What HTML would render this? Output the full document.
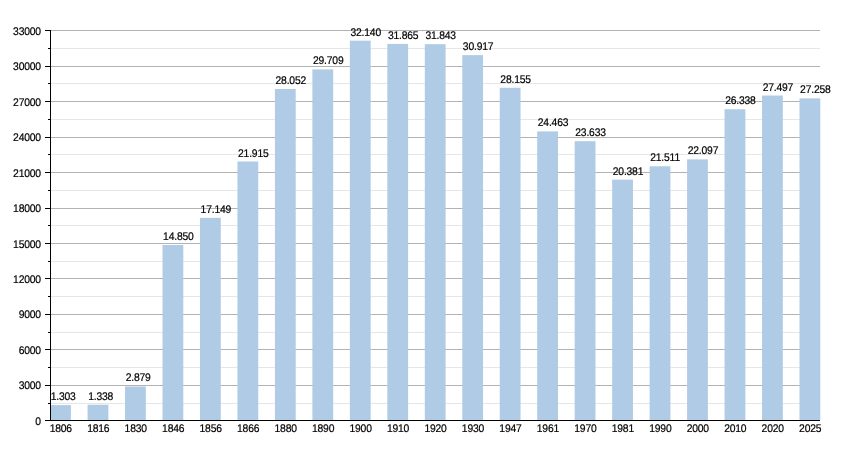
<!DOCTYPE html>
<html><head><meta charset="utf-8"><title>Chart</title>
<style>
html,body{margin:0;padding:0;background:#fff;}
body{width:850px;height:450px;overflow:hidden;}
svg{display:block;}
svg text{font-family:"Liberation Sans",Arial,Helvetica,sans-serif;font-size:11px;fill:#000;letter-spacing:-0.2px;text-rendering:geometricPrecision;stroke:#000;stroke-width:0.2px;}
</style></head><body>
<svg width="850" height="450" viewBox="0 0 850 450">
<rect width="850" height="450" fill="#fff"/>
<line x1="50.5" y1="403.50" x2="820" y2="403.50" stroke="#e6e6e6" stroke-width="1"/>
<line x1="50.5" y1="367.50" x2="820" y2="367.50" stroke="#e6e6e6" stroke-width="1"/>
<line x1="50.5" y1="332.50" x2="820" y2="332.50" stroke="#e6e6e6" stroke-width="1"/>
<line x1="50.5" y1="296.50" x2="820" y2="296.50" stroke="#e6e6e6" stroke-width="1"/>
<line x1="50.5" y1="261.50" x2="820" y2="261.50" stroke="#e6e6e6" stroke-width="1"/>
<line x1="50.5" y1="225.50" x2="820" y2="225.50" stroke="#e6e6e6" stroke-width="1"/>
<line x1="50.5" y1="190.50" x2="820" y2="190.50" stroke="#e6e6e6" stroke-width="1"/>
<line x1="50.5" y1="154.50" x2="820" y2="154.50" stroke="#e6e6e6" stroke-width="1"/>
<line x1="50.5" y1="119.50" x2="820" y2="119.50" stroke="#e6e6e6" stroke-width="1"/>
<line x1="50.5" y1="83.50" x2="820" y2="83.50" stroke="#e6e6e6" stroke-width="1"/>
<line x1="50.5" y1="48.50" x2="820" y2="48.50" stroke="#e6e6e6" stroke-width="1"/>
<line x1="50.5" y1="385.50" x2="820" y2="385.50" stroke="#b3b3b3" stroke-width="1"/>
<line x1="50.5" y1="349.50" x2="820" y2="349.50" stroke="#b3b3b3" stroke-width="1"/>
<line x1="50.5" y1="314.50" x2="820" y2="314.50" stroke="#b3b3b3" stroke-width="1"/>
<line x1="50.5" y1="278.50" x2="820" y2="278.50" stroke="#b3b3b3" stroke-width="1"/>
<line x1="50.5" y1="243.50" x2="820" y2="243.50" stroke="#b3b3b3" stroke-width="1"/>
<line x1="50.5" y1="208.50" x2="820" y2="208.50" stroke="#b3b3b3" stroke-width="1"/>
<line x1="50.5" y1="172.50" x2="820" y2="172.50" stroke="#b3b3b3" stroke-width="1"/>
<line x1="50.5" y1="137.50" x2="820" y2="137.50" stroke="#b3b3b3" stroke-width="1"/>
<line x1="50.5" y1="101.50" x2="820" y2="101.50" stroke="#b3b3b3" stroke-width="1"/>
<line x1="50.5" y1="66.50" x2="820" y2="66.50" stroke="#b3b3b3" stroke-width="1"/>
<line x1="50.5" y1="30.50" x2="820" y2="30.50" stroke="#b3b3b3" stroke-width="1"/>
<rect x="50.10" y="405.10" width="20.8" height="15.40" fill="#b0cbe6"/>
<rect x="87.57" y="404.69" width="20.8" height="15.81" fill="#b0cbe6"/>
<rect x="125.04" y="386.48" width="20.8" height="34.02" fill="#b0cbe6"/>
<rect x="162.51" y="245.00" width="20.8" height="175.50" fill="#b0cbe6"/>
<rect x="199.98" y="217.83" width="20.8" height="202.67" fill="#b0cbe6"/>
<rect x="237.45" y="161.50" width="20.8" height="259.00" fill="#b0cbe6"/>
<rect x="274.92" y="88.98" width="20.8" height="331.52" fill="#b0cbe6"/>
<rect x="312.39" y="69.39" width="20.8" height="351.11" fill="#b0cbe6"/>
<rect x="349.86" y="40.66" width="20.8" height="379.84" fill="#b0cbe6"/>
<rect x="387.33" y="43.91" width="20.8" height="376.59" fill="#b0cbe6"/>
<rect x="424.80" y="44.17" width="20.8" height="376.33" fill="#b0cbe6"/>
<rect x="462.27" y="55.12" width="20.8" height="365.38" fill="#b0cbe6"/>
<rect x="499.74" y="87.76" width="20.8" height="332.74" fill="#b0cbe6"/>
<rect x="537.21" y="131.39" width="20.8" height="289.11" fill="#b0cbe6"/>
<rect x="574.68" y="141.20" width="20.8" height="279.30" fill="#b0cbe6"/>
<rect x="612.15" y="179.63" width="20.8" height="240.87" fill="#b0cbe6"/>
<rect x="649.62" y="166.28" width="20.8" height="254.22" fill="#b0cbe6"/>
<rect x="687.09" y="159.35" width="20.8" height="261.15" fill="#b0cbe6"/>
<rect x="724.56" y="109.23" width="20.8" height="311.27" fill="#b0cbe6"/>
<rect x="762.03" y="95.54" width="20.8" height="324.96" fill="#b0cbe6"/>
<rect x="799.50" y="98.36" width="20.8" height="322.14" fill="#b0cbe6"/>
<line x1="50.5" y1="30" x2="50.5" y2="421" stroke="#000" stroke-width="1"/>
<line x1="50" y1="420.5" x2="820" y2="420.5" stroke="#000" stroke-width="1"/>
<line x1="45" y1="420.50" x2="50.5" y2="420.50" stroke="#000" stroke-width="1"/>
<text transform="translate(40.9 424.80) scale(0.94 1)" text-anchor="end">0</text>
<line x1="48" y1="403.50" x2="50.5" y2="403.50" stroke="#000" stroke-width="1"/>
<line x1="45" y1="385.50" x2="50.5" y2="385.50" stroke="#000" stroke-width="1"/>
<text transform="translate(40.9 389.35) scale(0.94 1)" text-anchor="end">3000</text>
<line x1="48" y1="367.50" x2="50.5" y2="367.50" stroke="#000" stroke-width="1"/>
<line x1="45" y1="349.50" x2="50.5" y2="349.50" stroke="#000" stroke-width="1"/>
<text transform="translate(40.9 353.89) scale(0.94 1)" text-anchor="end">6000</text>
<line x1="48" y1="332.50" x2="50.5" y2="332.50" stroke="#000" stroke-width="1"/>
<line x1="45" y1="314.50" x2="50.5" y2="314.50" stroke="#000" stroke-width="1"/>
<text transform="translate(40.9 318.44) scale(0.94 1)" text-anchor="end">9000</text>
<line x1="48" y1="296.50" x2="50.5" y2="296.50" stroke="#000" stroke-width="1"/>
<line x1="45" y1="278.50" x2="50.5" y2="278.50" stroke="#000" stroke-width="1"/>
<text transform="translate(40.9 282.98) scale(0.94 1)" text-anchor="end">12000</text>
<line x1="48" y1="261.50" x2="50.5" y2="261.50" stroke="#000" stroke-width="1"/>
<line x1="45" y1="243.50" x2="50.5" y2="243.50" stroke="#000" stroke-width="1"/>
<text transform="translate(40.9 247.53) scale(0.94 1)" text-anchor="end">15000</text>
<line x1="48" y1="225.50" x2="50.5" y2="225.50" stroke="#000" stroke-width="1"/>
<line x1="45" y1="208.50" x2="50.5" y2="208.50" stroke="#000" stroke-width="1"/>
<text transform="translate(40.9 212.07) scale(0.94 1)" text-anchor="end">18000</text>
<line x1="48" y1="190.50" x2="50.5" y2="190.50" stroke="#000" stroke-width="1"/>
<line x1="45" y1="172.50" x2="50.5" y2="172.50" stroke="#000" stroke-width="1"/>
<text transform="translate(40.9 176.62) scale(0.94 1)" text-anchor="end">21000</text>
<line x1="48" y1="154.50" x2="50.5" y2="154.50" stroke="#000" stroke-width="1"/>
<line x1="45" y1="137.50" x2="50.5" y2="137.50" stroke="#000" stroke-width="1"/>
<text transform="translate(40.9 141.16) scale(0.94 1)" text-anchor="end">24000</text>
<line x1="48" y1="119.50" x2="50.5" y2="119.50" stroke="#000" stroke-width="1"/>
<line x1="45" y1="101.50" x2="50.5" y2="101.50" stroke="#000" stroke-width="1"/>
<text transform="translate(40.9 105.71) scale(0.94 1)" text-anchor="end">27000</text>
<line x1="48" y1="83.50" x2="50.5" y2="83.50" stroke="#000" stroke-width="1"/>
<line x1="45" y1="66.50" x2="50.5" y2="66.50" stroke="#000" stroke-width="1"/>
<text transform="translate(40.9 70.25) scale(0.94 1)" text-anchor="end">30000</text>
<line x1="48" y1="48.50" x2="50.5" y2="48.50" stroke="#000" stroke-width="1"/>
<line x1="45" y1="30.50" x2="50.5" y2="30.50" stroke="#000" stroke-width="1"/>
<text transform="translate(40.9 34.80) scale(0.94 1)" text-anchor="end">33000</text>
<text transform="translate(50.70 400.10) scale(0.94 1)">1.303</text>
<text transform="translate(60.80 432.00) scale(0.94 1)" text-anchor="middle">1806</text>
<text transform="translate(88.17 399.69) scale(0.94 1)">1.338</text>
<text transform="translate(98.27 432.00) scale(0.94 1)" text-anchor="middle">1816</text>
<text transform="translate(125.64 381.48) scale(0.94 1)">2.879</text>
<text transform="translate(135.74 432.00) scale(0.94 1)" text-anchor="middle">1830</text>
<text transform="translate(163.11 240.00) scale(0.94 1)">14.850</text>
<text transform="translate(173.21 432.00) scale(0.94 1)" text-anchor="middle">1846</text>
<text transform="translate(200.58 212.83) scale(0.94 1)">17.149</text>
<text transform="translate(210.68 432.00) scale(0.94 1)" text-anchor="middle">1856</text>
<text transform="translate(238.05 156.50) scale(0.94 1)">21.915</text>
<text transform="translate(248.15 432.00) scale(0.94 1)" text-anchor="middle">1866</text>
<text transform="translate(275.52 83.98) scale(0.94 1)">28.052</text>
<text transform="translate(285.62 432.00) scale(0.94 1)" text-anchor="middle">1880</text>
<text transform="translate(312.99 64.39) scale(0.94 1)">29.709</text>
<text transform="translate(323.09 432.00) scale(0.94 1)" text-anchor="middle">1890</text>
<text transform="translate(350.46 35.66) scale(0.94 1)">32.140</text>
<text transform="translate(360.56 432.00) scale(0.94 1)" text-anchor="middle">1900</text>
<text transform="translate(387.93 38.91) scale(0.94 1)">31.865</text>
<text transform="translate(398.03 432.00) scale(0.94 1)" text-anchor="middle">1910</text>
<text transform="translate(425.40 39.17) scale(0.94 1)">31.843</text>
<text transform="translate(435.50 432.00) scale(0.94 1)" text-anchor="middle">1920</text>
<text transform="translate(462.87 50.12) scale(0.94 1)">30.917</text>
<text transform="translate(472.97 432.00) scale(0.94 1)" text-anchor="middle">1930</text>
<text transform="translate(500.34 82.76) scale(0.94 1)">28.155</text>
<text transform="translate(510.44 432.00) scale(0.94 1)" text-anchor="middle">1947</text>
<text transform="translate(537.81 126.39) scale(0.94 1)">24.463</text>
<text transform="translate(547.91 432.00) scale(0.94 1)" text-anchor="middle">1961</text>
<text transform="translate(575.28 136.20) scale(0.94 1)">23.633</text>
<text transform="translate(585.38 432.00) scale(0.94 1)" text-anchor="middle">1970</text>
<text transform="translate(612.75 174.63) scale(0.94 1)">20.381</text>
<text transform="translate(622.85 432.00) scale(0.94 1)" text-anchor="middle">1981</text>
<text transform="translate(650.22 161.28) scale(0.94 1)">21.511</text>
<text transform="translate(660.32 432.00) scale(0.94 1)" text-anchor="middle">1990</text>
<text transform="translate(687.69 154.35) scale(0.94 1)">22.097</text>
<text transform="translate(697.79 432.00) scale(0.94 1)" text-anchor="middle">2000</text>
<text transform="translate(725.16 104.23) scale(0.94 1)">26.338</text>
<text transform="translate(735.26 432.00) scale(0.94 1)" text-anchor="middle">2010</text>
<text transform="translate(762.63 90.54) scale(0.94 1)">27.497</text>
<text transform="translate(772.73 432.00) scale(0.94 1)" text-anchor="middle">2020</text>
<text transform="translate(800.10 93.36) scale(0.94 1)">27.258</text>
<text transform="translate(810.20 432.00) scale(0.94 1)" text-anchor="middle">2025</text>
</svg>
</body></html>
